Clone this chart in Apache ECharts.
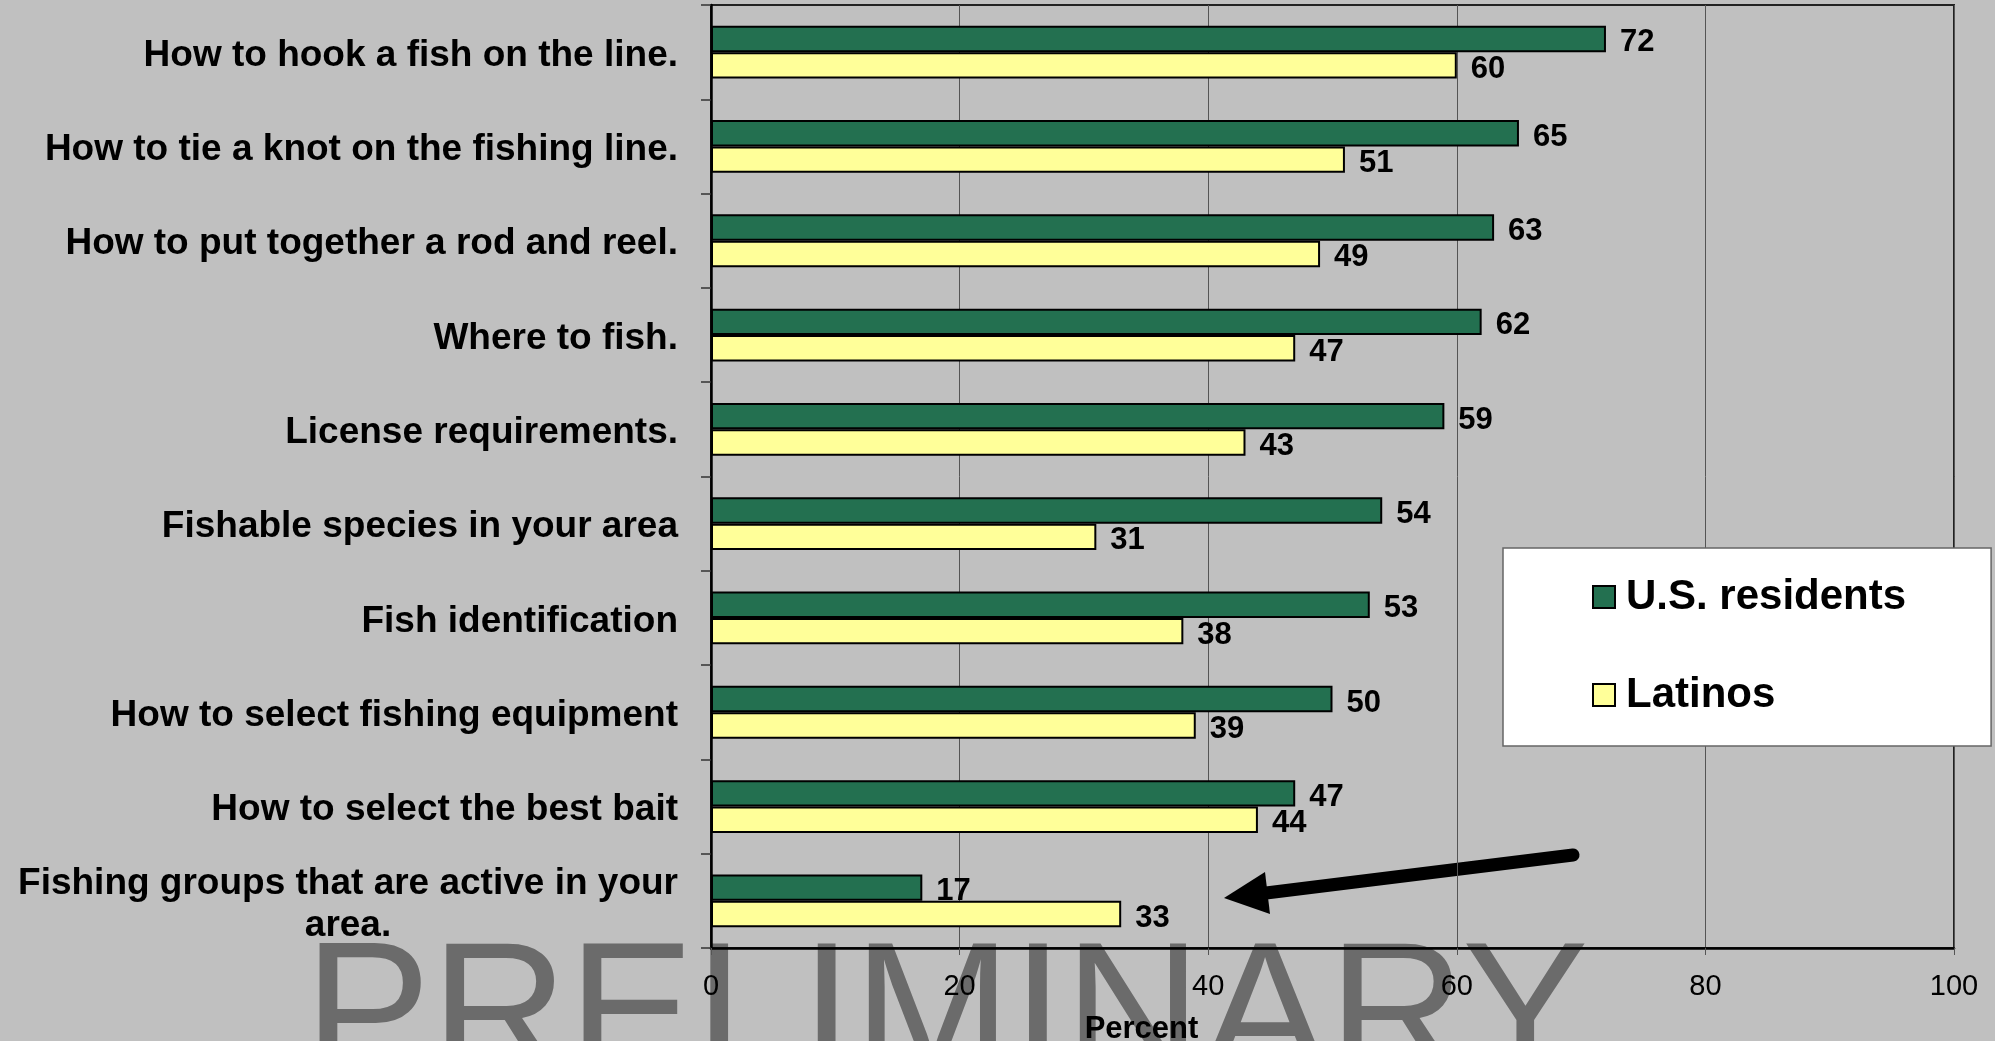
<!DOCTYPE html>
<html>
<head>
<meta charset="utf-8">
<script src="https://cdn.jsdelivr.net/npm/echarts@6/dist/echarts.min.js"></script>
<style>
  html, body { margin: 0; padding: 0; background: #c0c0c0; }
  #chart { width: 1995px; height: 1041px; }
</style>
</head>
<body>
<div id="chart"></div>
<script>
// Fishing topics, top to bottom
const categories = [
  'How to hook a fish on the line.',
  'How to tie a knot on the fishing line.',
  'How to put together a rod and reel.',
  'Where to fish.',
  'License requirements.',
  'Fishable species in your area',
  'Fish identification',
  'How to select fishing equipment',
  'How to select the best bait',
  'Fishing groups that are active in your\narea.'
];
const usResidents = [72, 65, 63, 62, 59, 54, 53, 50, 47, 17];
const latinos = [60, 51, 49, 47, 43, 31, 38, 39, 44, 33];
const percentTicks = [0, 20, 40, 60, 80, 100];

const FONT = '"Liberation Sans", Arial, sans-serif';

const chart = echarts.init(document.getElementById('chart'), null, { renderer: 'canvas' });

const valueLabel = {
  show: true,
  position: 'right',
  distance: 14,
  offset: [0, 4],
  color: '#000',
  fontFamily: FONT,
  fontWeight: 'bold',
  fontSize: 31
};

chart.setOption({
  backgroundColor: '#c0c0c0',
  animation: false,
  grid: {
    left: 711, right: 41, top: 5, bottom: 93,
    outerBoundsMode: 'none',
    containLabel: false,
    show: true,
    backgroundColor: 'transparent',
    borderColor: '#222',
    borderWidth: 2
  },
  legend: {
    orient: 'vertical',
    left: 1503,
    top: 548,
    backgroundColor: '#fff',
    borderColor: '#666',
    borderWidth: 1.5,
    padding: [28, 85, 30, 89],
    itemGap: 56,
    itemWidth: 22,
    itemHeight: 22,
    icon: 'rect',
    selectedMode: false,
    textStyle: {
      fontFamily: FONT, fontWeight: 'bold', fontSize: 42, color: '#000',
      lineHeight: 42, padding: [0, 0, 0, 6]
    },
    data: ['U.S. residents', 'Latinos']
  },
  xAxis: {
    type: 'value',
    min: 0, max: 100, interval: 20,
    name: 'Percent',
    nameLocation: 'middle',
    nameGap: 66,
    nameTextStyle: {
      fontFamily: FONT, fontWeight: 'bold', fontSize: 31, color: '#000',
      padding: [0, 382, 0, 0]
    },
    axisLine: { show: true, lineStyle: { color: '#000', width: 2.5 } },
    axisTick: { show: true, length: 7, lineStyle: { color: '#555', width: 1 } },
    splitLine: { show: true, lineStyle: { color: '#555', width: 1 } },
    axisLabel: {
      margin: 24,
      fontFamily: FONT, fontSize: 29, color: '#000',
      formatter: v => percentTicks.includes(v) ? String(v) : ''
    }
  },
  yAxis: {
    type: 'category',
    inverse: true,
    data: categories,
    axisLine: { show: true, lineStyle: { color: '#000', width: 2.5 } },
    axisTick: { show: true, length: 10, lineStyle: { color: '#333', width: 1.5 } },
    splitLine: { show: false },
    axisLabel: {
      margin: 33,
      align: 'right',
      padding: [7, 0, 0, 0],
      fontFamily: FONT, fontWeight: 'bold', fontSize: 37, color: '#000',
      lineHeight: 42,
      formatter: v => v.split('\n').map(s => '{c|' + s + '}').join('\n'),
      rich: {
        c: {
          align: 'center',
          fontFamily: FONT, fontWeight: 'bold', fontSize: 37, color: '#000',
          lineHeight: 42
        }
      }
    }
  },
  series: [
    {
      name: 'U.S. residents',
      type: 'bar',
      data: usResidents,
      barGap: '0%',
      barCategoryGap: '44%',
      itemStyle: { color: '#237050', borderColor: '#000', borderWidth: 2 },
      label: valueLabel
    },
    {
      name: 'Latinos',
      type: 'bar',
      data: latinos,
      barGap: '0%',
      barCategoryGap: '44%',
      itemStyle: { color: '#ffff99', borderColor: '#000', borderWidth: 2 },
      label: valueLabel
    }
  ],
  graphic: [
    {
      type: 'text',
      z: -1,
      left: 304,
      top: 927,
      style: {
        text: 'PRELIMINARY',
        fontFamily: FONT,
        fontSize: 190,
        fill: '#6b6b6b'
      }
    },
    {
      type: 'group',
      z: 100,
      children: [
        {
          type: 'polyline',
          shape: { points: [[1573, 855], [1258, 894]] },
          style: { stroke: '#000', lineWidth: 13, lineCap: 'round', fill: null }
        },
        {
          type: 'polygon',
          shape: { points: [[1224, 898], [1265, 872], [1270, 914]] },
          style: { fill: '#000' }
        }
      ]
    }
  ]
});
</script>
</body>
</html>
